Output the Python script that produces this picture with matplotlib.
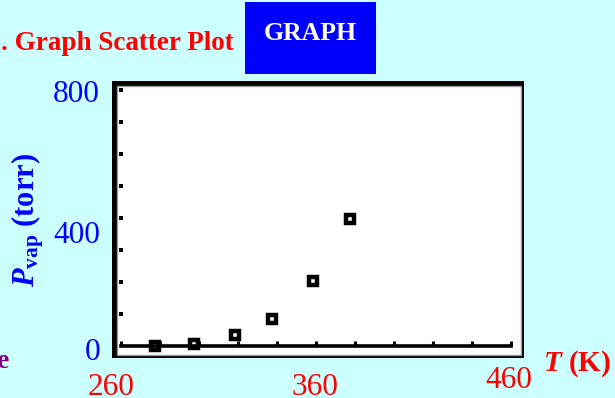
import matplotlib
matplotlib.use('Agg')
import matplotlib.pyplot as plt
from matplotlib.patches import Rectangle

# data
temps = [277, 297, 318, 337, 358, 377]      # T (K)
pvap = [0, 5, 35, 86, 203, 396]             # P_vap (torr)
x_ticks = list(range(260, 461, 20))
y_dots = list(range(100, 801, 100))
x_labels = ['260', '360', '460']
y_labels = ['0', '400', '800']

W, H = 615, 398


def fx(x):
    return x / W


def fy(y):
    return 1 - y / H


plt.rcParams['font.family'] = ['Liberation Serif', 'DejaVu Serif']
plt.rcParams['mathtext.fontset'] = 'custom'
plt.rcParams['mathtext.rm'] = 'Liberation Serif'
plt.rcParams['mathtext.it'] = 'Liberation Serif:italic'
plt.rcParams['mathtext.bf'] = 'Liberation Serif:bold'
plt.rcParams['mathtext.bfit'] = 'Liberation Serif:italic:bold'

fig = plt.figure(figsize=(6.15, 3.98), dpi=100, facecolor='#ccffff')

# black frame around the screen
fig.add_artist(Rectangle((fx(112), fy(358)), (524 - 112) / W, (358 - 81) / H,
                         transform=fig.transFigure, fc='black', ec='none', zorder=-1))

ax = fig.add_axes([fx(117), fy(355), (521 - 117) / W, (355 - 86) / H])
ax.set_facecolor('white')
ax.set_xlim(257.7, 464.9)
ax.set_ylim(-28, 812.5)

ax.plot(temps, pvap, 's', ms=6.2, mfc='white', mec='black', mew=3.2, zorder=2)
ax.plot([x_ticks[0]] * len(y_dots), y_dots, 's', ms=2.2, color='black', mew=0)

for s in ['left', 'top', 'right']:
    ax.spines[s].set_visible(False)
ax.spines['bottom'].set_position(('data', 0))
ax.spines['bottom'].set_bounds(x_ticks[0], x_ticks[-1])
ax.spines['bottom'].set_linewidth(2.6)
ax.spines['bottom'].set_zorder(3)
ax.set_xticks(x_ticks)
ax.tick_params(axis='x', direction='in', length=3.6, width=2.2,
               labelbottom=False, color='black')
ax.set_yticks([])
ax.add_patch(Rectangle((0, 0), 1, 1, transform=ax.transAxes, fill=False,
                       ec='#999999', lw=1, clip_on=False))

# title and button
fig.text(fx(1), fy(50), '. Graph Scatter Plot', color='#ff0000', fontsize=19.5,
         fontweight='bold', va='baseline', ha='left')
fig.add_artist(Rectangle((fx(245), fy(74)), (376 - 245) / W, (74 - 2) / H,
                         transform=fig.transFigure, fc='#0000ff', ec='none'))
fig.text(fx(310), fy(40), 'GRAPH', color='white', fontsize=18.5,
         fontweight='bold', va='baseline', ha='center')

# tick labels
y_label_pos = [(100, 360), (100, 243), (100, 102)]
for lab, (x, y) in zip(y_labels, y_label_pos):
    fig.text(fx(x), fy(y), lab, color='#0000ff', fontsize=22.5,
             ha='right', va='baseline')

x_label_pos = [(111, 395), (315, 395), (509, 388)]
for lab, (x, y) in zip(x_labels, x_label_pos):
    fig.text(fx(x), fy(y), lab, color='#ff0000', fontsize=22.5,
             ha='center', va='baseline')

# axis titles
fig.text(fx(543), fy(371), r'$\mathbfit{T}$ (K)', color='#ff0000', fontsize=21,
         fontweight='bold', ha='left', va='baseline')
fig.text(fx(28), fy(220), r'$\mathbfit{P}_{\mathbf{vap}}$ (torr)', color='#0000ff',
         fontsize=22, fontweight='bold', rotation=90, ha='center', va='center')

fig.text(fx(9), fy(368), 'e', color='#800080', fontsize=20, fontweight='bold',
         ha='right', va='baseline')

fig.savefig('out.png', dpi=100, facecolor=fig.get_facecolor())
